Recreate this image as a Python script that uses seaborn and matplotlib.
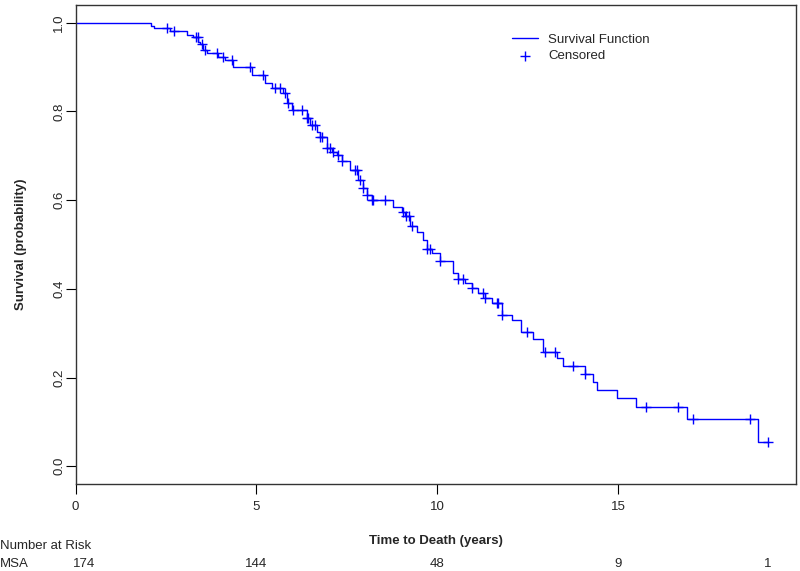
import numpy as np
import pandas as pd
import matplotlib
matplotlib.use("Agg")
import matplotlib.pyplot as plt
import seaborn as sns

# Kaplan-Meier steps (time in years, survival after the drop)
step_times = [0.0, 2.09, 2.18, 2.61, 3.07, 3.26, 3.40, 3.44, 3.53, 3.63, 3.95, 4.13, 4.36,
              4.87, 5.24, 5.42, 5.75, 5.84, 5.98, 6.39, 6.48, 6.67, 6.76, 6.95, 7.08,
              7.22, 7.36, 7.59, 7.82, 7.96, 8.05, 8.19, 8.78, 9.02, 9.11, 9.25, 9.43,
              9.62, 9.71, 9.85, 10.08, 10.45, 10.58, 10.77, 10.95, 11.14, 11.32, 11.51,
              11.78, 12.06, 12.32, 12.66, 12.93, 13.32, 13.49, 14.09, 14.32, 14.41,
              14.96, 15.49, 16.91, 18.88, 19.15]
step_surv = [1.0, 0.993, 0.988, 0.982, 0.973, 0.968, 0.957, 0.952, 0.938, 0.931, 0.923,
             0.916, 0.901, 0.882, 0.863, 0.852, 0.841, 0.818, 0.803, 0.784, 0.769, 0.754,
             0.743, 0.717, 0.709, 0.702, 0.687, 0.668, 0.646, 0.627, 0.612, 0.601, 0.585,
             0.574, 0.563, 0.541, 0.529, 0.511, 0.490, 0.481, 0.462, 0.436, 0.421, 0.413,
             0.402, 0.391, 0.380, 0.368, 0.342, 0.329, 0.302, 0.287, 0.257, 0.245, 0.227,
             0.209, 0.190, 0.172, 0.153, 0.134, 0.107, 0.055, 0.055]

# censoring times (years)
censor_times = [2.52, 2.73, 3.33, 3.39, 3.49, 3.58, 3.90, 4.09, 4.32, 4.82, 5.19, 5.52,
                5.65, 5.79, 5.88, 6.02, 6.25, 6.39, 6.43, 6.53, 6.62, 6.76, 6.81, 6.95,
                7.04, 7.12, 7.26, 7.36, 7.73, 7.77, 7.87, 7.96, 8.05, 8.19, 8.23, 8.56,
                9.06, 9.14, 9.23, 9.30, 9.71, 9.80, 10.08, 10.58, 10.72, 10.95, 11.27,
                11.32, 11.65, 11.69, 11.78, 12.47, 12.98, 13.26, 13.75, 14.09, 15.77,
                16.67, 17.06, 18.65, 19.15]

# number at risk table
risk_times = [0.24, 5, 10, 15, 19.15]
risk_counts = [174, 144, 48, 9, 1]
group_name = "MSA"

steps = pd.DataFrame({"time": step_times, "surv": step_surv})
idx = np.searchsorted(step_times, censor_times, side="right") - 1
cens = pd.DataFrame({"time": censor_times, "surv": np.array(step_surv)[idx]})

sns.set_style("white")
plt.rcParams["font.family"] = ["Liberation Sans", "DejaVu Sans"]

fig = plt.figure(figsize=(8, 5.71), dpi=100)
ax = fig.add_axes([0.0944, 0.1524, 0.9006, 0.839])

sns.lineplot(data=steps, x="time", y="surv", drawstyle="steps-post", estimator=None,
             sort=False, color="blue", linewidth=1.0, ax=ax, label="Survival Function")
sns.scatterplot(data=cens, x="time", y="surv", marker="+", s=50, linewidth=1.0,
                color="blue", ax=ax, label="Censored", zorder=3)

ax.set_xlim(0, 19.92)
ax.set_ylim(-0.04, 1.04)
ax.set_xticks([0, 5, 10, 15])
ax.set_yticks([0.0, 0.2, 0.4, 0.6, 0.8, 1.0])
ax.set_yticklabels(["0.0", "0.2", "0.4", "0.6", "0.8", "1.0"], rotation=90, va="center")
ax.tick_params(axis="both", direction="out", length=7, width=0.8, color="black",
               labelsize=9.5, bottom=True, left=True)
ax.tick_params(axis="x", pad=5)
ax.tick_params(axis="y", pad=0.5)
for s in ax.spines.values():
    s.set_color("#333333")
    s.set_linewidth(1.0)

ax.set_xlabel("Time to Death (years)", fontsize=9.5, fontweight="bold", labelpad=16)
ax.set_ylabel("Survival (probability)", fontsize=9.5, fontweight="bold", labelpad=19)

leg = ax.legend(loc="upper left", bbox_to_anchor=(0.59, 0.965), frameon=False,
                fontsize=9.5, handlelength=1.9, labelspacing=0.3, handletextpad=0.8)

# number at risk
fig.text(0.0, 1 - 546 / 571, "Number at Risk", fontsize=9.5, va="center", ha="left")
fig.text(0.0, 1 - 564 / 571, group_name, fontsize=9.5, va="center", ha="left")
for t, n in zip(risk_times, risk_counts):
    xf = ax.transData.transform((t, 0))[0]
    xfig = fig.transFigure.inverted().transform((xf, 0))[0]
    fig.text(xfig, 1 - 564 / 571, str(n), fontsize=9.5, va="center", ha="center")

fig.savefig("out.png", dpi=100)
